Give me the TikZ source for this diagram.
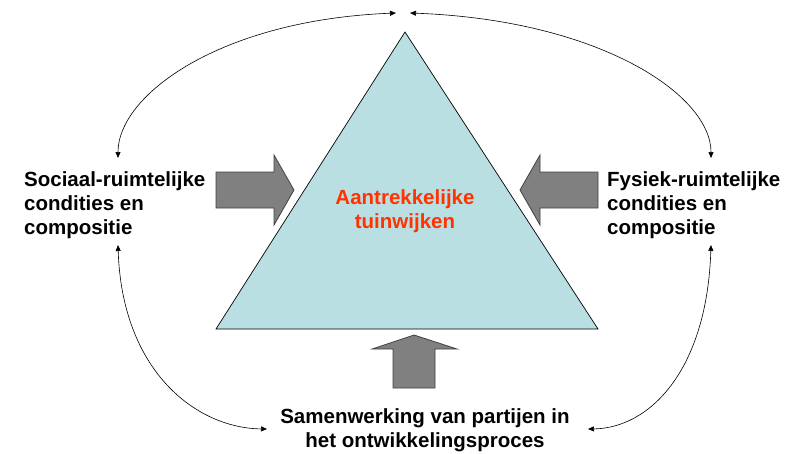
\documentclass[tikz,border=0pt]{standalone}
\usepackage{fontspec}
\setmainfont{Liberation Sans}
\usetikzlibrary{arrows.meta}
\definecolor{triblue}{RGB}{185,223,226}
\definecolor{blockgray}{RGB}{128,128,128}
\definecolor{titlered}{RGB}{255,51,0}
\tikzset{
  lbl/.style={font=\bfseries\fontsize{20.5}{24}\selectfont, inner sep=0pt, align=left},
  ctr/.style={font=\bfseries\fontsize{20.5}{24}\selectfont, inner sep=0pt, align=center},
  link/.style={draw=black, line width=0.6pt, {Triangle[length=6pt,width=5pt]}-{Triangle[length=6pt,width=5pt]}},
  blockarrow/.style={draw=black!75, fill=blockgray, line width=0.8pt, line join=miter},
}
\begin{document}
\begin{tikzpicture}[x=1pt,y=-1pt]
\useasboundingbox (0,0) rectangle (792,453);
% triangle
\draw[fill=triblue, line width=0.7pt, line join=miter] (405,32) -- (598,329) -- (216,329) -- cycle;
% block arrows
\draw[blockarrow] (216,172) -- (274,172) -- (274,155) -- (294,190) -- (274,225) -- (274,208) -- (216,208) -- cycle;
\draw[blockarrow] (598,172) -- (540,172) -- (540,155) -- (520,190) -- (540,225) -- (540,208) -- (598,208) -- cycle;
\draw[blockarrow] (393,388) -- (393,349) -- (372,349) -- (414,335) -- (457,349) -- (435,349) -- (435,388) -- cycle;
% texts (base anchor = baseline of the last line)
\node[ctr, text=titlered, anchor=base] (goal) at (405,228) {Aantrekkelijke\\tuinwijken};
\node[lbl, anchor=base west] (social) at (24,234) {Sociaal-ruimtelijke\\condities en\\compositie};
\node[lbl, anchor=base west] (physical) at (607,234) {Fysiek-ruimtelijke\\condities en\\compositie};
\node[ctr, anchor=base] (coop) at (425,447) {Samenwerking van partijen in\\het ontwikkelingsproces};
% connector end points
\coordinate (tl) at (396,13);
\coordinate (tr) at (410,13);
\coordinate (sl) at (118,158);
\coordinate (sr) at (711,158);
\coordinate (bl) at (118,245);
\coordinate (br) at (711,245);
\coordinate (cl) at (267,429);
\coordinate (cr) at (588,429);
% curved connectors
\draw[link] (tl) .. controls (220,20) and (118,95) .. (sl);
\draw[link] (tr) .. controls (600,20) and (711,95) .. (sr);
\draw[link] (bl) .. controls (122,370) and (195,428) .. (cl);
\draw[link] (br) .. controls (707,370) and (650,428) .. (cr);
\end{tikzpicture}
\end{document}
